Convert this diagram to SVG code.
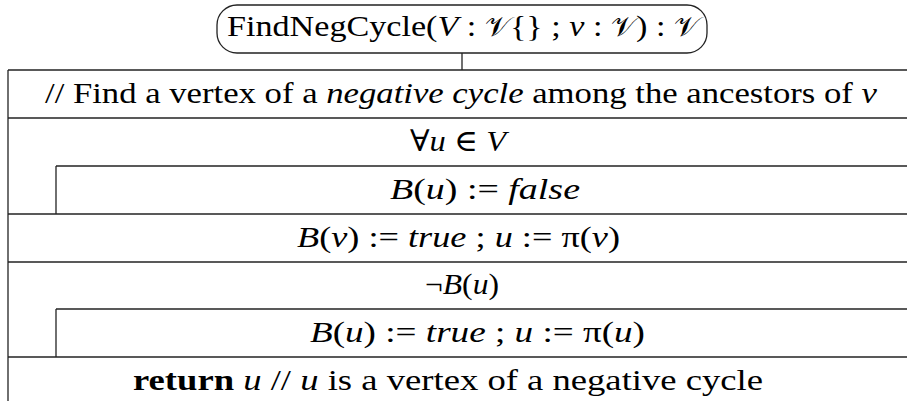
<svg xmlns="http://www.w3.org/2000/svg" width="907" height="401" viewBox="0 0 907 401">
<style>
  text { font-family: "Liberation Serif", "DejaVu Serif", serif; font-size: 30px; fill: #000; }
  .i { font-style: italic; }
  .b { font-weight: bold; }
  .cal { font-family: "DejaVu Sans", "Noto Sans", "DejaVu Serif", serif; font-style: normal; font-size: 27px; }
  .ln { stroke: #222; stroke-width: 1.3; fill: none; }
</style>
<rect width="907" height="401" fill="#fff"/>
<g id="title">
  <rect class="ln" x="217" y="5" width="490" height="48" rx="20" ry="20"/>
  <text x="227" y="36" textLength="472" lengthAdjust="spacingAndGlyphs">FindNegCycle(<tspan class="i">V</tspan> : <tspan class="cal">𝒱</tspan>{} ; <tspan class="i">v</tspan> : <tspan class="cal">𝒱</tspan>) : <tspan class="cal">𝒱</tspan></text>
</g>
<g id="connectors">
  <line class="ln" x1="462" y1="53" x2="462" y2="70"/>
  <line class="ln" x1="8" y1="70" x2="8" y2="401"/>
</g>
<g id="comment">
  <line class="ln" x1="8" y1="70" x2="907" y2="70"/>
  <text x="45" y="103" textLength="832" lengthAdjust="spacingAndGlyphs">// Find a vertex of a <tspan class="i">negative cycle</tspan> among the ancestors of <tspan class="i">v</tspan></text>
</g>
<g id="loop1">
  <line class="ln" x1="8" y1="118" x2="907" y2="118"/>
  <text x="410" y="151" textLength="96" lengthAdjust="spacingAndGlyphs">∀<tspan class="i">u</tspan> ∈ <tspan class="i">V</tspan></text>
</g>
<g id="init">
  <line class="ln" x1="56" y1="166" x2="907" y2="166"/>
  <line class="ln" x1="56" y1="166" x2="56" y2="214"/>
  <text x="390" y="199" textLength="190" lengthAdjust="spacingAndGlyphs"><tspan class="i">B</tspan>(<tspan class="i">u</tspan>) := <tspan class="i">false</tspan></text>
</g>
<g id="start">
  <line class="ln" x1="8" y1="214" x2="907" y2="214"/>
  <text x="297" y="247" textLength="323" lengthAdjust="spacingAndGlyphs"><tspan class="i">B</tspan>(<tspan class="i">v</tspan>) := <tspan class="i">true</tspan> ; <tspan class="i">u</tspan> := π(<tspan class="i">v</tspan>)</text>
</g>
<g id="loop2">
  <line class="ln" x1="8" y1="262" x2="907" y2="262"/>
  <text x="425" y="294" textLength="74" lengthAdjust="spacingAndGlyphs">¬<tspan class="i">B</tspan>(<tspan class="i">u</tspan>)</text>
</g>
<g id="step">
  <line class="ln" x1="56" y1="309" x2="907" y2="309"/>
  <line class="ln" x1="56" y1="309" x2="56" y2="357"/>
  <text x="310" y="342" textLength="335" lengthAdjust="spacingAndGlyphs"><tspan class="i">B</tspan>(<tspan class="i">u</tspan>) := <tspan class="i">true</tspan> ; <tspan class="i">u</tspan> := π(<tspan class="i">u</tspan>)</text>
</g>
<g id="return">
  <line class="ln" x1="8" y1="357" x2="907" y2="357"/>
  <text x="133" y="390" textLength="630" lengthAdjust="spacingAndGlyphs"><tspan class="b">return</tspan> <tspan class="i">u</tspan> // <tspan class="i">u</tspan> is a vertex of a negative cycle</text>
</g>
</svg>
